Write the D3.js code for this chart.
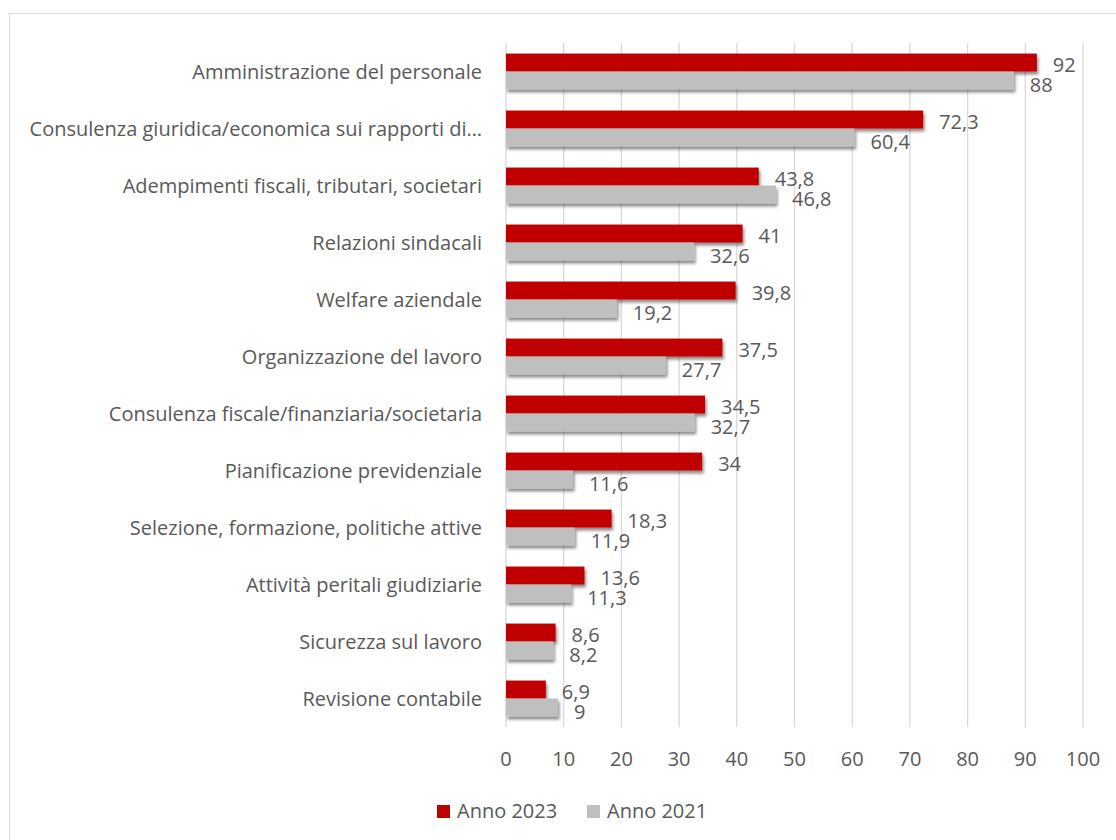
<!DOCTYPE html>
<html>
<head>
<meta charset="utf-8">
<script src="https://cdn.jsdelivr.net/npm/d3@7.9.0/dist/d3.min.js"></script>
<style>
  body { margin: 0; background: #fff; }
  text { font-family: "Open Sans", sans-serif; fill: #595959; }
</style>
</head>
<body>
<svg id="chart" width="1116" height="840"></svg>
<script>
const categories = [
  "Amministrazione del personale",
  "Consulenza giuridica/economica sui rapporti di…",
  "Adempimenti fiscali, tributari, societari",
  "Relazioni sindacali",
  "Welfare aziendale",
  "Organizzazione del lavoro",
  "Consulenza fiscale/finanziaria/societaria",
  "Pianificazione previdenziale",
  "Selezione, formazione, politiche attive",
  "Attività peritali giudiziarie",
  "Sicurezza sul lavoro",
  "Revisione contabile"
];
const values2023 = [92, 72.3, 43.8, 41, 39.8, 37.5, 34.5, 34, 18.3, 13.6, 8.6, 6.9];
const values2021 = [88, 60.4, 46.8, 32.6, 19.2, 27.7, 32.7, 11.6, 11.9, 11.3, 8.2, 9];
const seriesNames = ["Anno 2023", "Anno 2021"];
const seriesColors = ["#c00000", "#bfbfbf"];
const xTicks = [0, 10, 20, 30, 40, 50, 60, 70, 80, 90, 100];

const svg = d3.select('#chart');

// outer frame
svg.append('rect')
  .attr('x', 9.5).attr('y', 13.5)
  .attr('width', 1120).attr('height', 840)
  .attr('fill', 'none').attr('stroke', '#d9d9d9');

// shadow for bars
const defs = svg.append('defs');
const f = defs.append('filter').attr('id', 'shadow')
  .attr('x', '-10%').attr('y', '-30%').attr('width', '130%').attr('height', '180%');
f.append('feDropShadow')
  .attr('dx', 1.5).attr('dy', 3).attr('stdDeviation', 1.8)
  .attr('flood-color', '#000').attr('flood-opacity', 0.45);

const x = d3.scaleLinear().domain([0, 100]).range([506, 1083]);
const y = d3.scaleBand().domain(categories).range([43, 727]).paddingInner(0.37).paddingOuter(0.185);
const ySub = d3.scaleBand().domain(seriesNames).range([0, y.bandwidth()]);

// gridlines
svg.append('g')
  .selectAll('line')
  .data(xTicks)
  .join('line')
  .attr('x1', d => x(d)).attr('x2', d => x(d))
  .attr('y1', 43).attr('y2', 727)
  .attr('stroke', '#d9d9d9').attr('stroke-width', 1.3);

// x axis labels
svg.append('g')
  .selectAll('text')
  .data(xTicks)
  .join('text')
  .attr('x', d => x(d))
  .attr('y', 766)
  .attr('text-anchor', 'middle')
  .style('font-size', '20px')
  .text(d => d);

// category labels
svg.append('g')
  .selectAll('text')
  .data(categories)
  .join('text')
  .attr('x', 482)
  .attr('y', d => y(d) + y.bandwidth() / 2 + 7)
  .attr('text-anchor', 'end')
  .style('font-size', '20px')
  .text(d => d);

const fmt = v => String(v).replace('.', ',');
const series = [values2023, values2021];

series.forEach((vals, si) => {
  const g = svg.append('g');
  g.selectAll('rect')
    .data(vals)
    .join('rect')
    .attr('x', x(0))
    .attr('y', (d, i) => y(categories[i]) + ySub(seriesNames[si]))
    .attr('width', d => x(d) - x(0))
    .attr('height', ySub.bandwidth())
    .attr('fill', seriesColors[si])
    .attr('filter', 'url(#shadow)');
});

series.forEach((vals, si) => {
  svg.append('g')
    .selectAll('text')
    .data(vals)
    .join('text')
    .attr('x', d => x(d) + 16)
    .attr('y', (d, i) => y(categories[i]) + ySub(seriesNames[si]) + ySub.bandwidth() / 2 + (si === 0 ? 9.5 : 11.5))
    .style('font-size', '20px')
    .text(d => fmt(d));
});

// legend
const legend = svg.append('g');
const legendX = [437, 587];
seriesNames.forEach((name, i) => {
  legend.append('rect')
    .attr('x', legendX[i]).attr('y', 805)
    .attr('width', 13).attr('height', 13)
    .attr('fill', seriesColors[i]);
  legend.append('text')
    .attr('x', legendX[i] + 20).attr('y', 818)
    .style('font-size', '20px')
    .text(name);
});
</script>
</body>
</html>
